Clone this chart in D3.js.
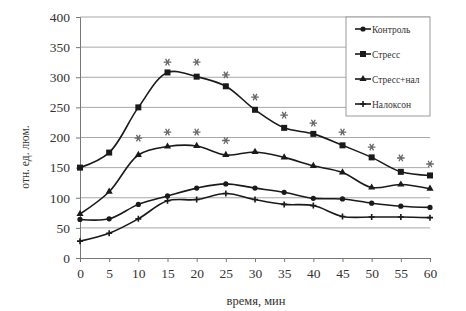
<!DOCTYPE html>
<html lang="ru">
<head>
  <meta charset="UTF-8">
  <title>Люминесценция</title>
  <style>
    body { margin: 0; background: #fff; }
    svg { display: block; }
    text { font-family: 'Liberation Serif', 'DejaVu Serif', serif; fill: #333; }
  </style>
</head>
<body>
  <div class="layout"></div>
  <script src="https://d3js.org/d3.v7.min.js"></script>
  <script>
    const SVGWIDTH = 466;
    const SVGHEIGHT = 311;
    const margin = {top: 17, right: 36, bottom: 53, left: 80};
    const innerWidth = SVGWIDTH - margin.left - margin.right;
    const innerHeight = SVGHEIGHT - margin.top - margin.bottom;

    // data
    const times = [0, 5, 10, 15, 20, 25, 30, 35, 40, 45, 50, 55, 60];
    const control = [64, 65, 89, 103, 116, 123, 116, 109, 99, 98, 91, 86, 84];
    const stress = [150, 175, 250, 308, 301, 285, 246, 216, 206, 187, 167, 143, 137];
    const stressNal = [73, 110, 171, 185, 186, 171, 176, 167, 153, 142, 117, 122, 115];
    const naloxone = [28, 41, 65, 95, 97, 107, 97, 89, 87, 69, 68, 68, 67];
    const seriesNames = ['Контроль', 'Стресс', 'Стресс+нал', 'Налоксон'];
    const yTicks = [0, 50, 100, 150, 200, 250, 300, 350, 400];
    // significance marks
    const starTimes = [15, 20, 25, 30, 35, 40, 45, 50, 55, 60, 10, 15, 20, 25];
    const starValues = [325, 325, 304, 267, 237, 224, 209, 184, 166, 156, 199, 209, 209, 195];

    const seriesList = [
      {name: seriesNames[0], values: control, marker: 'circle'},
      {name: seriesNames[1], values: stress, marker: 'square'},
      {name: seriesNames[2], values: stressNal, marker: 'triangle'},
      {name: seriesNames[3], values: naloxone, marker: 'plus'}
    ];

    const xScale = d3.scaleLinear().domain([0, 60]).range([0, innerWidth]);
    const yScale = d3.scaleLinear().domain([0, 400]).range([innerHeight, 0]);

    const svg = d3.select('.layout')
      .append('svg')
      .attr('width', SVGWIDTH)
      .attr('height', SVGHEIGHT);

    const mainCont = svg.append('g')
      .attr('transform', `translate(${margin.left},${margin.top})`);

    // horizontal grid
    mainCont.append('g')
      .selectAll('line')
      .data(yTicks.filter(d => d > 0))
      .enter()
      .append('line')
      .attr('x1', 0)
      .attr('x2', innerWidth)
      .attr('y1', d => yScale(d))
      .attr('y2', d => yScale(d))
      .attr('stroke', '#a8a8a8')
      .attr('stroke-width', 1);

    // axes
    const xAxis = d3.axisBottom(xScale).tickValues(times).tickSize(4).tickPadding(6);
    const yAxis = d3.axisLeft(yScale).tickValues(yTicks).tickSize(4).tickPadding(6);

    const bottomAxisCont = mainCont.append('g')
      .attr('transform', `translate(0,${innerHeight})`)
      .call(xAxis);
    const leftAxisCont = mainCont.append('g').call(yAxis);

    [bottomAxisCont, leftAxisCont].forEach(ax => {
      ax.select('.domain').attr('stroke', '#777');
      ax.selectAll('.tick line').attr('stroke', '#777');
      ax.selectAll('.tick text')
        .attr('font-family', "'Liberation Serif', serif")
        .attr('font-size', '13.5px')
        .attr('fill', '#333');
    });

    // smoothed lines
    const line = d3.line()
      .x((d, i) => xScale(times[i]))
      .y(d => yScale(d))
      .curve(d3.curveCatmullRom.alpha(0.5));

    seriesList.forEach(s => {
      mainCont.append('path')
        .datum(s.values)
        .attr('fill', 'none')
        .attr('stroke', '#1a1a1a')
        .attr('stroke-width', 1.6)
        .attr('d', line);
    });

    function drawMarker(g, type, x, y) {
      if (type === 'circle') {
        g.append('circle').attr('cx', x).attr('cy', y).attr('r', 2.6).attr('fill', '#1a1a1a');
      } else if (type === 'square') {
        g.append('rect').attr('x', x - 3).attr('y', y - 3).attr('width', 6).attr('height', 6).attr('fill', '#1a1a1a');
      } else if (type === 'triangle') {
        g.append('path')
          .attr('d', d3.symbol().type(d3.symbolTriangle).size(22)())
          .attr('transform', `translate(${x},${y})`)
          .attr('fill', '#1a1a1a');
      } else {
        g.append('path')
          .attr('d', `M${x - 3},${y}H${x + 3}M${x},${y - 3}V${y + 3}`)
          .attr('stroke', '#1a1a1a')
          .attr('stroke-width', 1.6);
      }
    }

    seriesList.forEach(s => {
      const g = mainCont.append('g');
      s.values.forEach((v, i) => drawMarker(g, s.marker, xScale(times[i]), yScale(v)));
    });

    // asterisks
    mainCont.append('g')
      .selectAll('path')
      .data(starTimes)
      .enter()
      .append('path')
      .attr('d', d3.symbol().type(d3.symbolAsterisk).size(40)())
      .attr('transform', (d, i) => `translate(${xScale(d)},${yScale(starValues[i])}) rotate(90)`)
      .attr('fill', 'none')
      .attr('stroke', '#666')
      .attr('stroke-width', 1.3);

    // legend
    const legend = svg.append('g').attr('transform', 'translate(346,17)');
    legend.append('rect')
      .attr('width', 84)
      .attr('height', 99)
      .attr('fill', '#fff')
      .attr('stroke', '#999');
    seriesList.forEach((s, i) => {
      const y = 12 + i * 25;
      legend.append('line')
        .attr('x1', 9).attr('x2', 25)
        .attr('y1', y).attr('y2', y)
        .attr('stroke', '#1a1a1a').attr('stroke-width', 1.6);
      drawMarker(legend, s.marker, 17, y);
      legend.append('text')
        .attr('x', 26)
        .attr('y', y + 3.5)
        .attr('font-size', '9.5px')
        .text(s.name);
    });

    // axis titles
    svg.append('text')
      .attr('x', 256)
      .attr('y', 305)
      .attr('text-anchor', 'middle')
      .attr('font-size', '12.5px')
      .text('время, мин');

    svg.append('text')
      .attr('transform', 'translate(29,157) rotate(-90)')
      .attr('text-anchor', 'middle')
      .attr('font-size', '11.5px')
      .text('отн. ед. люм.');
  </script>
</body>
</html>
